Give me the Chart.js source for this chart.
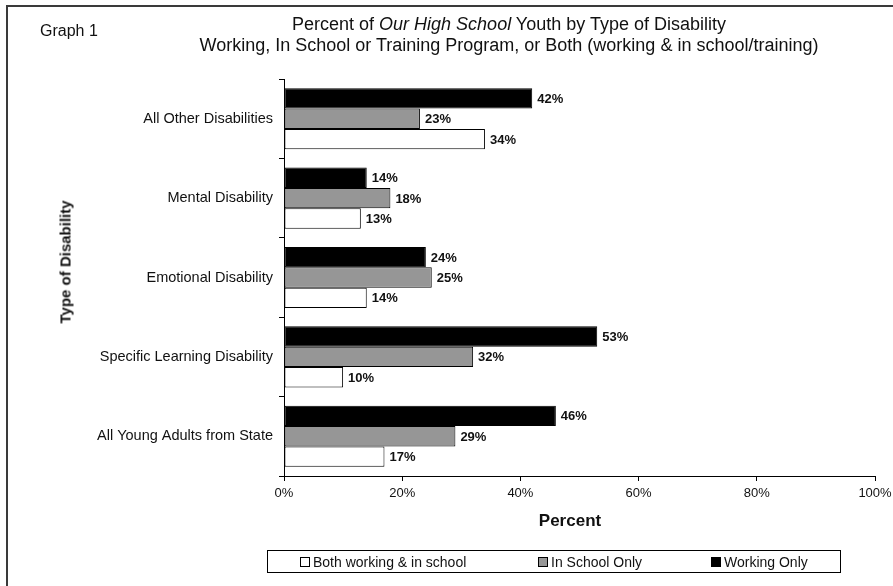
<!DOCTYPE html>
<html>
<head>
<meta charset="utf-8">
<script src="https://cdn.jsdelivr.net/npm/chart.js@4.4.1/dist/chart.umd.min.js"></script>
<style>
  body { margin: 0; background: #fff; font-family: "Liberation Sans", Arial, sans-serif; color: #111; }
  #wrap { position: relative; width: 893px; height: 586px; overflow: hidden; }
  #frame { position: absolute; left: 6px; top: 5px; width: 950px; height: 650px;
           border-left: 2px solid #3a3a3a; border-top: 2px solid #3a3a3a; }
  canvas { position: absolute; left: 0; top: 0; }
  #graphNo { position: absolute; left: 40px; top: 22px; font-size: 16px; }
  .title { position: absolute; left: 0; width: 1018px; text-align: center; font-size: 18px; white-space: nowrap; line-height: 20px; }
  #yTitle { position: absolute; left: 65px; top: 262px; transform: translate(-50%, -50%) rotate(-90deg);
            font-size: 15px; font-weight: bold; white-space: nowrap; }
  #xTitle { position: absolute; left: 570px; top: 521px; transform: translate(-50%, -50%);
            font-size: 17px; font-weight: bold; white-space: nowrap; }
  #legend { position: absolute; left: 267px; top: 550px; width: 572px; height: 21px;
            border: 1.5px solid #000; font-size: 14px; }
  #legend .item { position: absolute; top: 0; height: 21px; display: flex; align-items: center; white-space: nowrap; }
  #legend .box { width: 8px; height: 8px; border: 1px solid #000; margin-right: 3px; }
</style>
</head>
<body>
<div id="wrap">
  <div id="frame"></div>
  <canvas id="chart" width="893" height="586"></canvas>
  <div id="graphNo">Graph 1</div>
  <div class="title" style="top:14px">Percent of <i>Our High School</i> Youth by Type of Disability</div>
  <div class="title" style="top:35px">Working, In School or Training Program, or Both (working &amp; in school/training)</div>
  <div id="yTitle">Type of Disability</div>
  <div id="xTitle">Percent</div>
  <div id="legend"></div>
</div>
<script>
const categories = [
  'All Other Disabilities',
  'Mental Disability',
  'Emotional Disability',
  'Specific Learning Disability',
  'All Young Adults from State',
];
const workingOnly = [42, 14, 24, 53, 46];
const inSchoolOnly = [23, 18, 25, 32, 29];
const bothWorkingSchool = [34, 13, 14, 10, 17];
const seriesNames = ['Working Only', 'In School Only', 'Both working & in school'];
const xTickStep = 20;
const xMax = 100;

const FONT = '"Liberation Sans", Arial, sans-serif';

// value labels at the end of each bar
const valueLabels = {
  id: 'valueLabels',
  afterDatasetsDraw(chart) {
    const { ctx } = chart;
    ctx.save();
    ctx.font = 'bold 13px ' + FONT;
    ctx.fillStyle = '#111';
    ctx.textBaseline = 'middle';
    chart.data.datasets.forEach((ds, i) => {
      chart.getDatasetMeta(i).data.forEach((bar, j) => {
        ctx.fillText(ds.data[j] + '%', bar.x + 5, bar.y + 1);
      });
    });
    ctx.restore();
  },
};

const chart = new Chart(document.getElementById('chart'), {
  type: 'bar',
  data: {
    labels: categories,
    datasets: [
      { label: seriesNames[0], data: workingOnly, backgroundColor: '#000000' },
      { label: seriesNames[1], data: inSchoolOnly, backgroundColor: '#969696' },
      { label: seriesNames[2], data: bothWorkingSchool, backgroundColor: '#ffffff' },
    ].map((d) => Object.assign(d, {
      borderColor: '#000',
      borderWidth: 1,
      borderSkipped: false,
      categoryPercentage: 0.77,
      barPercentage: 1.0,
    })),
  },
  options: {
    indexAxis: 'y',
    responsive: false,
    animation: false,
    layout: { padding: { top: 79, left: 0, right: 0, bottom: 50 } },
    plugins: {
      legend: { display: false },
      tooltip: { enabled: false },
    },
    scales: {
      x: {
        min: 0,
        max: xMax,
        afterFit: (s) => { s.height = 60; s.paddingRight = 18; },
        ticks: {
          stepSize: xTickStep,
          callback: (v) => v + '%',
          color: '#111',
          font: { family: FONT, size: 13 },
          padding: 5,
        },
        grid: { drawOnChartArea: false, tickLength: 5, color: '#000' },
        border: { color: '#000', width: 1 },
      },
      y: {
        afterFit: (s) => { s.width = 284; },
        ticks: {
          color: '#111',
          font: { family: FONT, size: 14.5 },
          padding: 6,
        },
        grid: { drawOnChartArea: false, tickLength: 5, color: '#000' },
        border: { color: '#000', width: 1 },
      },
    },
  },
  plugins: [valueLabels],
});

// legend box below the chart, in the order of the original
const legendEl = document.getElementById('legend');
const itemLeft = [32, 270, 443];
chart.data.datasets.slice().reverse().forEach((ds, i) => {
  const item = document.createElement('div');
  item.className = 'item';
  item.style.left = itemLeft[i] + 'px';
  const box = document.createElement('span');
  box.className = 'box';
  box.style.background = ds.backgroundColor;
  const txt = document.createElement('span');
  txt.textContent = ds.label;
  item.append(box, txt);
  legendEl.append(item);
});
</script>
</body>
</html>
